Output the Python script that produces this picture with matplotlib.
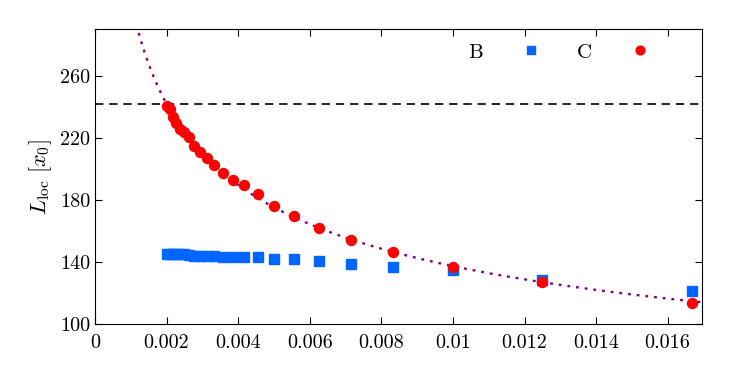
import numpy as np
import matplotlib
matplotlib.use("Agg")
import matplotlib.pyplot as plt

plt.rcParams['font.family'] = 'serif'
plt.rcParams['font.serif'] = ['cmr10', 'DejaVu Serif']
plt.rcParams['mathtext.fontset'] = 'cm'
plt.rcParams['axes.unicode_minus'] = False

# system sizes -> x = 1/N
N = np.array([500, 480, 460, 440, 420, 400, 380, 360, 340, 320, 300, 280,
              260, 240, 220, 200, 180, 160, 140, 120, 100, 80, 60])
x = 1.0 / N

# series B (blue squares)
L_B = [145.2, 145.0, 145.3, 145.2, 145.4, 145.3, 144.8, 144.0, 143.9, 143.8,
       143.8, 143.4, 143.3, 143.6, 143.1, 142.3, 141.9, 141.0, 138.8, 136.9,
       135.0, 128.5, 121.4]
# series C (red circles)
L_C = [240.6, 238.5, 233.7, 229.5, 225.8, 223.7, 220.4, 215.0, 211.0, 206.9,
       202.4, 197.5, 193.1, 190.0, 183.9, 176.4, 169.8, 161.8, 154.3, 146.6,
       136.9, 127.4, 113.5]

L_ref = 241.8

xticks = [0, 0.002, 0.004, 0.006, 0.008, 0.01, 0.012, 0.014, 0.016]
xticklabels = ['0', '0.002', '0.004', '0.006', '0.008', '0.01', '0.012', '0.014', '0.016']
yticks = [100, 140, 180, 220, 260]

# power-law fit to C
p = np.polyfit(np.log(x), np.log(L_C), 1)
xf = np.linspace(0.0009, 0.017, 400)
yf = np.exp(np.polyval(p, np.log(xf)))

fig = plt.figure(figsize=(7.46, 3.73), dpi=100)
ax = fig.add_axes([0.1273, 0.1306, 0.8133, 0.7908])

ax.axhline(L_ref, color='black', lw=1.2, ls=(0, (5, 3.5)))
ax.plot(xf, yf, color='#800080', lw=1.7, ls=(0, (1.2, 2.5)))
ax.plot(x, L_B, 's', color='#0066ff', ms=6.5, mec='#0066ff', label='B')
ax.plot(x, L_C, 'o', color='#ff0000', ms=7.2, mec='#ff0000', label='C')

ax.set_xlim(0, 0.01695)
ax.set_ylim(100, 290)
ax.set_xticks(xticks)
ax.set_xticklabels(xticklabels)
ax.set_yticks(yticks)
ax.tick_params(direction='in', top=True, right=True, labelsize=14.5, length=5, width=0.8)
ax.tick_params(axis='x', pad=7)
ax.set_ylabel(r'$L_{\rm loc}\ [x_0]$', fontsize=16, labelpad=4)

leg = ax.legend(loc='upper right', ncol=2, frameon=False, markerfirst=False,
                fontsize=15, handlelength=1.0, handletextpad=1.8, columnspacing=1.7,
                bbox_to_anchor=(0.946, 1.017))
for h in leg.legend_handles:
    h.set_markersize(6.3)

fig.savefig('out.png', dpi=100)
